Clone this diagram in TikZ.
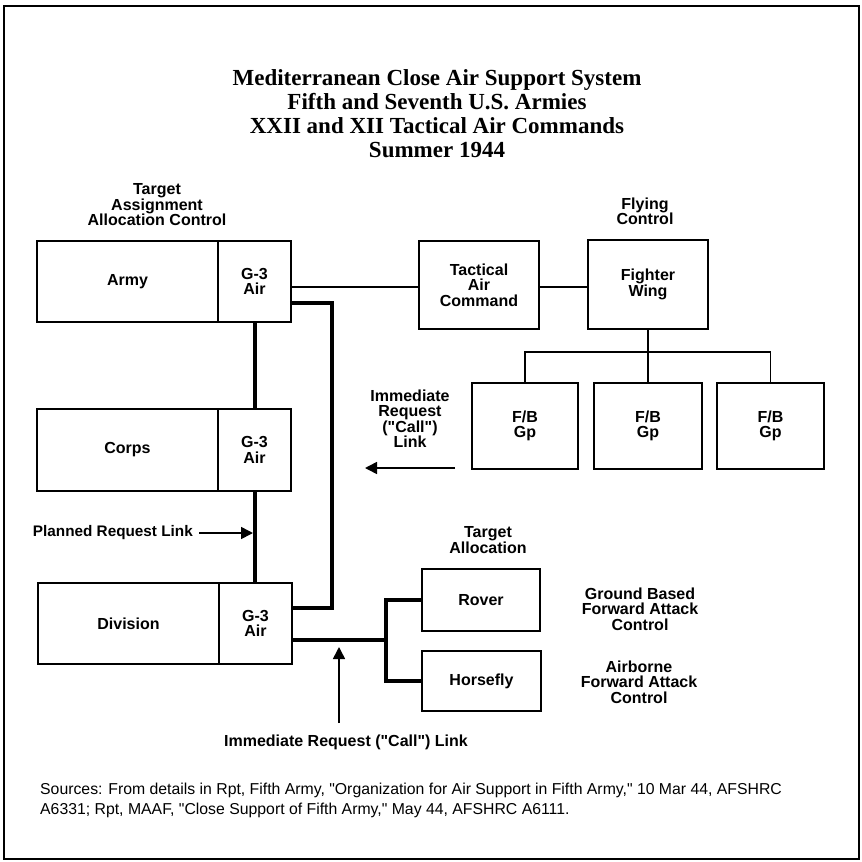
\documentclass[tikz,border=0pt]{standalone}
\usepackage{fontspec}
\setmainfont{Liberation Sans}[Ligatures=TeXOff]
\newfontfamily\titlefont{Liberation Serif}
\usetikzlibrary{arrows.meta}
\newcommand{\lblfont}{\fontsize{16}{15.5}\selectfont\bfseries}
\newcommand{\srcfont}{\fontsize{15.8}{20}\selectfont}
\begin{document}
\begin{tikzpicture}[x=1pt,y=-1pt,
  box/.style={draw,line width=1.1pt,inner sep=0pt,align=center,font=\lblfont},
  lbl/.style={inner sep=0pt,align=center,font=\lblfont},
  thinlink/.style={line width=1.8pt},
  thicklink/.style={line width=4pt},
  callarrow/.style={line width=1.6pt,-{Triangle[length=12pt,width=12pt]}}
]
\useasboundingbox (0,0) rectangle (862,862);
\draw[line width=1.5pt] (4,6) rectangle (859,859);

% title
\node[inner sep=0pt,align=center,font={\fontsize{23}{24}\selectfont\titlefont\bfseries}] (title) at (437,114)
  {Mediterranean Close Air Support System\\Fifth and Seventh U.S. Armies\\XXII and XII Tactical Air Commands\\Summer 1944};

% left column boxes
\node[box,minimum width=181pt,minimum height=81pt] (armyL) at (127.5,281.5) {Army};
\node[box,minimum width=73pt,minimum height=81pt] (armyG) at (254.5,281.5) {G-3\\Air};
\node[box,minimum width=181pt,minimum height=82pt] (corpsL) at (127.5,450) {Corps};
\node[box,minimum width=73pt,minimum height=82pt] (corpsG) at (254.5,450) {G-3\\Air};
\node[box,minimum width=181pt,minimum height=81pt] (divL) at (128.5,623.5) {Division};
\node[box,minimum width=73pt,minimum height=81pt] (divG) at (255.5,623.5) {G-3\\Air};

% air side boxes
\node[box,minimum width=120pt,minimum height=88pt] (tac) at (479,285) {Tactical\\Air\\Command};
\node[box,minimum width=120pt,minimum height=89pt] (fw) at (648,284.5) {Fighter\\Wing};
\node[box,minimum width=106pt,minimum height=86pt] (fb1) at (525,426) {F/B\\Gp};
\node[box,minimum width=108pt,minimum height=86pt] (fb2) at (648,426) {F/B\\Gp};
\node[box,minimum width=107pt,minimum height=86pt] (fb3) at (770.5,426) {F/B\\Gp};
\node[box,minimum width=118pt,minimum height=62pt] (rover) at (481,600) {Rover};
\node[box,minimum width=119pt,minimum height=60pt] (horsefly) at (481.5,681) {Horsefly};

% labels
\node[lbl] (tgtassign) at (157,205) {Target\\Assignment\\Allocation Control};
\node[lbl] (flying) at (645,211.5) {Flying\\Control};
\node[lbl] (immmid) at (410,418.5) {Immediate\\Request\\("Call")\\Link};
\node[lbl] (tgtalloc) at (488,540) {Target\\Allocation};
\node[lbl] (ground) at (640,609) {Ground Based\\Forward Attack\\Control};
\node[lbl] (airborne) at (639,682) {Airborne\\Forward Attack\\Control};
\node[lbl,anchor=east,font={\fontsize{15.3}{15.5}\selectfont\bfseries}] (planned) at (193,533) {Planned Request Link};
\node[lbl] (immbot) at (346,742) {Immediate Request ("Call") Link};
\node[inner sep=0pt,align=left,anchor=west,font=\srcfont] (sources) at (40,800)
  {Sources: From details in Rpt, Fifth Army, "Organization for Air Support in Fifth Army," 10 Mar 44, AFSHRC\\A6331; Rpt, MAAF, "Close Support of Fifth Army," May 44, AFSHRC A6111.};

% connectors
\draw[thinlink] (armyG.east |- 0,287) -- (tac.west |- 0,287);
\draw[thinlink] (tac.east |- 0,287) -- (fw.west |- 0,287);
\draw[thicklink] (armyG.south) -- (armyG.south |- corpsG.north);
\draw[thicklink] (corpsG.south) -- (corpsG.south |- divG.north);
\coordinate (cr) at (332,303);
\draw[thicklink] (armyG.east |- cr) -- (cr) |- (divG.east |- 0,608);
\coordinate (br) at (386,640);
\draw[thicklink] (divG.east |- br) -- (br);
\draw[thicklink] (rover.west) -| (br) |- (horsefly.west);
\coordinate (bus) at (648,352);
\draw[thinlink] (fw.south) -- (fb2.north);
\draw[thinlink] (fb1.north) |- (bus) -| (fb3.north);

% arrows
\coordinate (plannedtip) at (253,533);
\draw[callarrow] ([xshift=6pt]planned.east) -- (plannedtip);
\coordinate (midstart) at (455,468);
\coordinate (midtip) at (365,468);
\draw[callarrow] (midstart) -- (midtip);
\coordinate (botstart) at (339,723);
\coordinate (bottip) at (339,647);
\draw[callarrow] (botstart) -- (bottip);
\end{tikzpicture}
\end{document}
